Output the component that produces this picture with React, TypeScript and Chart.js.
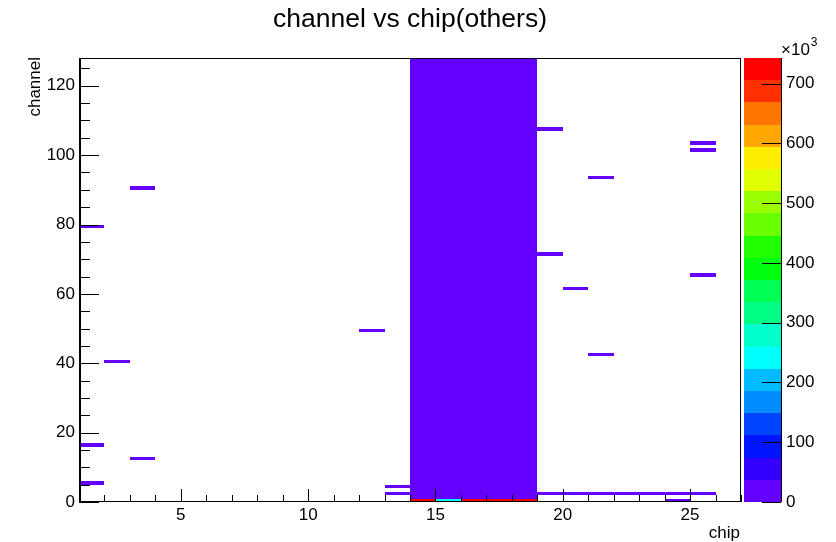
import { useEffect, useRef } from 'react';
import { Chart, registerables } from 'chart.js';

Chart.register(...registerables);

// ---------- text ----------
const CHART_TITLE = 'channel vs chip(others)';
const X_TITLE = 'chip';
const Y_TITLE = 'channel';
const Z_EXP_BASE = '\u00d710';
const Z_EXP_POWER = '3';

// ---------- axes ----------
const X_MIN = 1;
const X_MAX = 27;
const Y_MIN = 0;
const Y_MAX = 128;
const Z_MAX = 743000;
const X_MAJOR_TICKS = [5, 10, 15, 20, 25];
const Y_MAJOR_TICKS = [0, 20, 40, 60, 80, 100, 120];
const Z_TICKS = [0, 100000, 200000, 300000, 400000, 500000, 600000, 700000];
const N_CONTOURS = 20;

// ---------- single-bin cells (chip bin, channel bin, entries) ----------
const cellChip = [1, 1, 1, 2, 3, 3, 12, 13, 13, 19, 19, 19, 20, 20, 21, 21, 21, 22, 23, 24, 24, 25, 25, 25, 25, 14, 15, 16, 17, 18];
const cellChannel = [79, 16, 5, 40, 90, 12, 49, 4, 2, 107, 71, 2, 61, 2, 93, 42, 2, 2, 2, 2, 0, 103, 101, 65, 2, 0, 0, 0, 0, 0];
const cellCount = [1200, 1500, 1800, 1100, 1300, 1400, 1000, 2100, 4200, 1200, 1100, 5200, 1300, 4800, 1100, 1200, 5000, 4700, 4900, 5100, 1600, 1200, 1300, 1100, 4600, 721000, 252000, 738000, 731000, 743000];

// ---------- dense block: chips fully populated over a channel range ----------
const blockChip = [14, 15, 16, 17, 18];
const blockChannelFrom = [1, 1, 1, 1, 1];
const blockChannelTo = [128, 128, 128, 128, 128];
const blockCount = [3100, 2800, 3300, 3000, 2900];

const FONT = "'Liberation Sans', Arial, Helvetica, sans-serif";

// ROOT "pretty palette" (SetPalette(1)): HLS hue 280 -> 0, l=0.5, s=1
function hlsColor(h: number): string {
  const f = (n: number) => {
    const k = (n + h / 30) % 12;
    return 0.5 - 0.5 * Math.max(-1, Math.min(k - 3, 9 - k, 1));
  };
  return `rgb(${Math.round(f(0) * 255)},${Math.round(f(8) * 255)},${Math.round(f(4) * 255)})`;
}
const PRETTY: string[] = [];
for (let j = 0; j < 49; j++) PRETTY.push(hlsColor(280 - (j + 1) * (280 / 50)));
PRETTY.push('rgb(255,0,0)');
const CONTOUR_COLORS: string[] = [];
for (let i = 0; i < N_CONTOURS; i++) CONTOUR_COLORS.push(PRETTY[Math.floor((i + 0.99) * 50 / N_CONTOURS)]);

function colorFor(v: number): string {
  let idx = Math.floor(0.01 + (v / Z_MAX) * N_CONTOURS);
  if (idx < 0) idx = 0;
  if (idx > N_CONTOURS - 1) idx = N_CONTOURS - 1;
  return CONTOUR_COLORS[idx];
}

const heatmapPlugin = {
  id: 'heatmap',
  afterDatasetsDraw(chart: any) {
    const { ctx, chartArea } = chart;
    const xs = chart.scales.x;
    const ys = chart.scales.y;
    const zs = chart.scales.z;
    const { left, right, top, bottom } = chartArea;

    ctx.save();
    ctx.beginPath();
    ctx.rect(left, top, right - left, bottom - top);
    ctx.clip();
    const drawCell = (cx0: number, cx1: number, cy0: number, cy1: number, v: number) => {
      const x0 = Math.round(xs.getPixelForValue(cx0));
      const x1 = Math.round(xs.getPixelForValue(cx1));
      const y0 = Math.round(ys.getPixelForValue(cy0));
      const y1 = Math.round(ys.getPixelForValue(cy1));
      ctx.fillStyle = colorFor(v);
      ctx.fillRect(x0, y1, x1 - x0, y0 - y1);
    };
    for (let i = 0; i < blockChip.length; i++) {
      drawCell(blockChip[i], blockChip[i] + 1, blockChannelFrom[i], blockChannelTo[i], blockCount[i]);
    }
    for (let i = 0; i < cellChip.length; i++) {
      drawCell(cellChip[i], cellChip[i] + 1, cellChannel[i], cellChannel[i] + 1, cellCount[i]);
    }
    ctx.restore();

    // frame
    ctx.save();
    ctx.strokeStyle = '#000';
    ctx.lineWidth = 1;
    ctx.strokeRect(Math.round(left) + 0.5, Math.round(top) + 0.5, Math.round(right - left) - 1, Math.round(bottom - top) - 1);
    ctx.beginPath();
    ctx.moveTo(left, Math.round(bottom) - 0.5);
    ctx.lineTo(right, Math.round(bottom) - 0.5);
    ctx.moveTo(Math.round(left) + 1.5, top);
    ctx.lineTo(Math.round(left) + 1.5, bottom);
    ctx.stroke();

    // x ticks (inward)
    ctx.beginPath();
    for (let v = X_MIN; v <= X_MAX; v++) {
      const px = Math.round(xs.getPixelForValue(v)) + 0.5;
      const len = X_MAJOR_TICKS.includes(v) ? 13 : 7;
      ctx.moveTo(px, bottom);
      ctx.lineTo(px, bottom - len);
    }
    // y ticks (inward)
    for (let v = Y_MIN; v <= Y_MAX; v += 5) {
      const py = Math.round(ys.getPixelForValue(v)) + 0.5;
      const len = Y_MAJOR_TICKS.includes(v) ? 20 : 11;
      ctx.moveTo(left, py);
      ctx.lineTo(left + len, py);
    }
    ctx.stroke();

    // colour bar
    const cbx0 = Math.round(right) + 3;
    const cbx1 = Math.round(right) + 40;
    for (let i = 0; i < N_CONTOURS; i++) {
      const yb = Math.round(zs.getPixelForValue((i * Z_MAX) / N_CONTOURS));
      const yt = Math.round(zs.getPixelForValue(((i + 1) * Z_MAX) / N_CONTOURS));
      ctx.fillStyle = CONTOUR_COLORS[i];
      ctx.fillRect(cbx0, yt, cbx1 - cbx0, yb - yt);
    }
    ctx.beginPath();
    ctx.moveTo(cbx1 + 0.5, top);
    ctx.lineTo(cbx1 + 0.5, bottom);
    for (const t of Z_TICKS) {
      const py = Math.round(zs.getPixelForValue(t)) + 0.5;
      ctx.moveTo(cbx1, py);
      ctx.lineTo(cbx1 - 19, py);
    }
    ctx.stroke();

    // texts
    ctx.fillStyle = '#000';
    ctx.font = `26.5px ${FONT}`;
    ctx.textAlign = 'center';
    ctx.textBaseline = 'alphabetic';
    ctx.fillText(CHART_TITLE, (left + right) / 2, 27);

    ctx.font = `17px ${FONT}`;
    ctx.textAlign = 'right';
    ctx.fillText(X_TITLE, right - 1, 538);

    ctx.save();
    ctx.translate(40, top - 1);
    ctx.rotate(-Math.PI / 2);
    ctx.textAlign = 'right';
    ctx.fillText(Y_TITLE, 0, 0);
    ctx.restore();

    ctx.textAlign = 'left';
    ctx.font = `17px ${FONT}`;
    ctx.fillText(Z_EXP_BASE, cbx1, 55);
    const w = ctx.measureText(Z_EXP_BASE).width;
    ctx.font = `12px ${FONT}`;
    ctx.fillText(Z_EXP_POWER, cbx1 + w + 1, 46);
    ctx.restore();
  },
};

export default function App() {
  const canvasRef = useRef<HTMLCanvasElement | null>(null);

  useEffect(() => {
    if (!canvasRef.current) return;
    const points = cellChip.map((c, i) => ({ x: c + 0.5, y: cellChannel[i] + 0.5 }));
    const tickFont = { family: FONT, size: 17 };
    const chart = new Chart(canvasRef.current, {
      type: 'scatter',
      data: {
        datasets: [
          {
            label: 'entries',
            data: points,
            pointRadius: 0,
            showLine: false,
          },
        ],
      },
      options: {
        animation: false,
        responsive: false,
        devicePixelRatio: 1,
        layout: { padding: { top: 58, left: 0, right: 0, bottom: 0 } },
        plugins: {
          legend: { display: false },
          title: { display: false },
          tooltip: { enabled: false },
        },
        events: [],
        scales: {
          x: {
            type: 'linear',
            position: 'bottom',
            min: X_MIN,
            max: X_MAX,
            grid: { display: false, drawTicks: false },
            border: { display: false },
            ticks: { color: '#000', font: tickFont, padding: 3, maxRotation: 0 },
            afterBuildTicks: (s: any) => {
              s.ticks = X_MAJOR_TICKS.map((v) => ({ value: v }));
            },
            afterFit: (s: any) => {
              s.height = 40;
            },
          },
          y: {
            type: 'linear',
            position: 'left',
            min: Y_MIN,
            max: Y_MAX,
            grid: { display: false, drawTicks: false },
            border: { display: false },
            ticks: { color: '#000', font: tickFont, padding: 4 },
            afterBuildTicks: (s: any) => {
              s.ticks = Y_MAJOR_TICKS.map((v) => ({ value: v }));
            },
            afterFit: (s: any) => {
              s.width = 79;
            },
          },
          z: {
            type: 'linear',
            position: 'right',
            min: 0,
            max: Z_MAX,
            grid: { display: false, drawTicks: true, tickLength: 41 },
            border: { display: false },
            ticks: {
              color: '#000',
              font: tickFont,
              padding: 4,
              callback: (v: any) => String(Math.round(Number(v) / 1000)),
            },
            afterBuildTicks: (s: any) => {
              s.ticks = Z_TICKS.map((v) => ({ value: v }));
            },
            afterFit: (s: any) => {
              s.width = 95;
            },
          },
        },
      },
      plugins: [heatmapPlugin],
    } as any);
    return () => chart.destroy();
  }, []);

  return (
    <div style={{ position: 'absolute', left: 0, top: 0, width: 836, height: 542, background: '#fff' }}>
      <canvas ref={canvasRef} width={836} height={542} style={{ width: 836, height: 542, display: 'block' }} />
    </div>
  );
}
